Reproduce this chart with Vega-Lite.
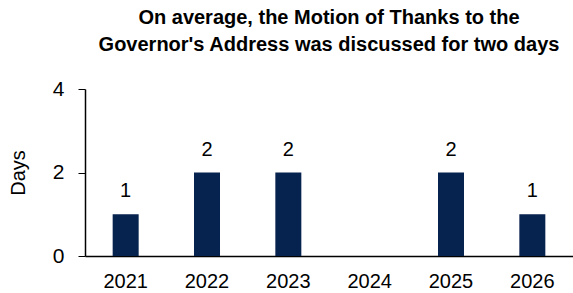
{
  "$schema": "https://vega.github.io/schema/vega-lite/v6.json",
  "autosize": "none",
  "width": 488,
  "height": 167,
  "padding": {"left": 85, "top": 89, "right": 0, "bottom": 37},
  "background": "white",
  "title": {
    "text": ["On average, the Motion of Thanks to the", "Governor's Address was discussed for two days"],
    "font": "Liberation Sans",
    "fontSize": 20,
    "fontWeight": "bold",
    "color": "#000000",
    "lineHeight": 27,
    "anchor": "middle",
    "offset": 23
  },
  "data": {
    "values": [
      {"year": "2021", "days": 1},
      {"year": "2022", "days": 2},
      {"year": "2023", "days": 2},
      {"year": "2024", "days": 0},
      {"year": "2025", "days": 2},
      {"year": "2026", "days": 1}
    ]
  },
  "encoding": {
    "x": {
      "field": "year",
      "type": "ordinal",
      "scale": {"paddingInner": 0, "paddingOuter": 0},
      "axis": {
        "title": null,
        "labelAngle": 0,
        "labelFont": "Liberation Sans",
        "labelFontSize": 20,
        "labelColor": "#000000",
        "labelPadding": 15,
        "ticks": false,
        "domainColor": "#000000",
        "domainWidth": 1.5
      }
    },
    "y": {
      "field": "days",
      "type": "quantitative",
      "scale": {"domain": [0, 4]},
      "axis": {
        "title": "Days",
        "titleFont": "Liberation Sans",
        "titleFontSize": 20,
        "titleFontWeight": "normal",
        "titleColor": "#000000",
        "titlePadding": 24,
        "values": [0, 2, 4],
        "labelFont": "Liberation Sans",
        "labelFontSize": 21,
        "labelColor": "#000000",
        "labelPadding": 14,
        "tickColor": "#000000",
        "tickSize": 7,
        "domainColor": "#000000",
        "domainWidth": 1.5,
        "grid": false
      }
    }
  },
  "layer": [
    {"mark": {"type": "bar", "width": 26, "color": "#06224f"}},
    {
      "transform": [{"filter": "datum.days > 0"}],
      "mark": {"type": "text", "baseline": "bottom", "dy": -13, "font": "Liberation Sans", "fontSize": 20, "color": "#000000"},
      "encoding": {"text": {"field": "days", "type": "quantitative"}}
    }
  ],
  "config": {"view": {"stroke": null}}
}
